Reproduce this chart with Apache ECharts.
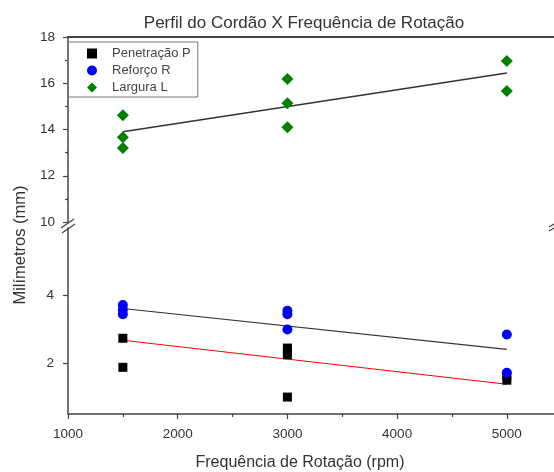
<!DOCTYPE html>
<html>
<head>
<meta charset="utf-8">
<script src="https://cdn.jsdelivr.net/npm/echarts@6/dist/echarts.min.js"></script>
<style>
  html, body { margin: 0; padding: 0; background: #fff; }
  #chart { width: 554px; height: 472px; }
</style>
</head>
<body>
<div id="chart"></div>
<script>
// dados
const seriesNames = ['Penetração P', 'Reforço R', 'Largura L']

const penX = [1500, 1500, 3000, 3000, 3000, 3000, 5000, 5000]
const penY = [2.74, 1.88, 2.45, 2.35, 2.25, 1.0, 1.62, 1.5]

const refX = [1500, 1500, 1500, 3000, 3000, 3000, 5000, 5000]
const refY = [3.72, 3.58, 3.45, 3.55, 3.45, 3.0, 2.85, 1.72]

const larX = [1500, 1500, 1500, 3000, 3000, 3000, 5000, 5000]
const larY = [14.62, 13.67, 13.2, 16.18, 15.14, 14.1, 16.96, 15.66]

// retas de tendência (pontos extremos)
const fitX = [1500, 5000]
const penFit = [2.68, 1.38]
const refFit = [3.62, 2.41]
const larFit = [13.9, 16.44]

// ticks
const xTicks = [1000, 2000, 3000, 4000, 5000]
const xMinor = [1500, 2500, 3500, 4500]
const lowTicks = [2, 4]
const lowMinor = [1, 3, 5]

const pairs = (xs, ys) => xs.map((x, i) => [x, ys[i]])

const font = 'Liberation Sans, Arial, sans-serif'
const axisColor = '#444'

const chart = echarts.init(document.getElementById('chart'))

const option = {
  animation: false,
  title: {
    text: 'Perfil do Cordão X Frequência de Rotação',
    left: 299,
    top: 10,
    textAlign: 'center',
    textStyle: { fontFamily: font, fontSize: 17, fontWeight: 'normal', color: '#333' }
  },
  legend: {
    orient: 'vertical',
    left: 68,
    top: 42,
    data: seriesNames,
    itemWidth: 10,
    itemHeight: 10,
    itemGap: 4,
    padding: [5, 7, 3, 19],
    borderColor: '#777',
    borderWidth: 1,
    textStyle: { fontFamily: font, fontSize: 13, color: '#444', padding: [0, 0, 0, 10] }
  },
  grid: [
    { left: 68, top: 37, width: 486, height: 185 },
    { left: 68, top: 228, width: 486, height: 187 }
  ],
  xAxis: [
    {
      type: 'value', gridIndex: 0, min: 1000, max: 5430, position: 'top',
      axisLine: { show: true, lineStyle: { color: axisColor, width: 2 } },
      axisTick: { show: false }, axisLabel: { show: false }, splitLine: { show: false }
    },
    {
      type: 'value', gridIndex: 1, min: 1000, max: 5430, position: 'bottom',
      name: 'Frequência de Rotação (rpm)',
      nameLocation: 'middle',
      nameGap: 41,
      nameTextStyle: { fontFamily: font, fontSize: 16, color: '#333', padding: [0, 22, 0, 0] },
      axisLine: { show: true, lineStyle: { color: axisColor, width: 1.5 } },
      axisTick: { show: true, length: 5, customValues: xTicks, lineStyle: { color: axisColor, width: 1.2 } },
      axisLabel: { customValues: xTicks, formatter: v => String(v), fontFamily: font, fontSize: 13.5, color: '#333', margin: 13 },
      splitLine: { show: false }
    },
    {
      type: 'value', gridIndex: 1, min: 1000, max: 5430, position: 'bottom',
      axisLine: { show: false },
      axisTick: { show: true, length: 3, customValues: xMinor, lineStyle: { color: axisColor, width: 1.2 } },
      axisLabel: { show: false }, splitLine: { show: false }
    }
  ],
  yAxis: [
    {
      type: 'value', gridIndex: 0, min: 10, max: 18, interval: 2,
      axisLine: { show: true, lineStyle: { color: axisColor, width: 1.5 } },
      axisTick: { show: true, length: 5, lineStyle: { color: axisColor, width: 1.2 } },
      minorTick: { show: true, splitNumber: 2, length: 3, lineStyle: { color: axisColor, width: 1.2 } },
      axisLabel: { fontFamily: font, fontSize: 13.5, color: '#333', margin: 13 },
      splitLine: { show: false }
    },
    {
      type: 'value', gridIndex: 1, min: 0.5, max: 6,
      axisLine: { show: true, lineStyle: { color: axisColor, width: 1.5 } },
      axisTick: { show: true, length: 5, customValues: lowTicks, lineStyle: { color: axisColor, width: 1.2 } },
      axisLabel: { customValues: lowTicks, fontFamily: font, fontSize: 13.5, color: '#333', margin: 14 },
      splitLine: { show: false }
    },
    {
      type: 'value', gridIndex: 1, min: 0.5, max: 6,
      axisLine: { show: false },
      axisTick: { show: true, length: 3, customValues: lowMinor, lineStyle: { color: axisColor, width: 1.2 } },
      axisLabel: { show: false }, splitLine: { show: false }
    }
  ],
  graphic: [
    {
      type: 'text', x: 20, y: 245, rotation: Math.PI / 2,
      style: { text: 'Milímetros (mm)', font: '16.5px ' + font, fill: '#333', align: 'center', verticalAlign: 'middle' }
    },
    // marcas de quebra do eixo
    { type: 'line', shape: { x1: 61, y1: 228, x2: 74, y2: 219 }, style: { stroke: axisColor, lineWidth: 1.3 } },
    { type: 'line', shape: { x1: 62, y1: 233, x2: 75, y2: 224 }, style: { stroke: axisColor, lineWidth: 1.3 } },
    { type: 'line', shape: { x1: 549, y1: 227, x2: 554, y2: 224 }, style: { stroke: axisColor, lineWidth: 1.2 } },
    { type: 'line', shape: { x1: 549, y1: 231, x2: 554, y2: 228 }, style: { stroke: axisColor, lineWidth: 1.2 } }
  ],
  series: [
    {
      name: seriesNames[0], type: 'scatter', xAxisIndex: 1, yAxisIndex: 1,
      symbol: 'rect', symbolSize: 9, itemStyle: { color: '#000', opacity: 1 },
      data: pairs(penX, penY), z: 3
    },
    {
      name: seriesNames[1], type: 'scatter', xAxisIndex: 1, yAxisIndex: 1,
      symbol: 'circle', symbolSize: 10, itemStyle: { color: '#0000ff', opacity: 1 },
      data: pairs(refX, refY), z: 3
    },
    {
      name: seriesNames[2], type: 'scatter', xAxisIndex: 0, yAxisIndex: 0,
      symbol: 'diamond', symbolSize: 12, itemStyle: { color: '#008000', opacity: 1 },
      data: pairs(larX, larY), z: 3
    },
    {
      type: 'line', xAxisIndex: 1, yAxisIndex: 1, symbol: 'none', silent: true,
      lineStyle: { color: '#ff0000', width: 1.2 }, data: pairs(fitX, penFit), z: 2
    },
    {
      type: 'line', xAxisIndex: 1, yAxisIndex: 1, symbol: 'none', silent: true,
      lineStyle: { color: '#333', width: 1.2 }, data: pairs(fitX, refFit), z: 2
    },
    {
      type: 'line', xAxisIndex: 0, yAxisIndex: 0, symbol: 'none', silent: true,
      lineStyle: { color: '#333', width: 1.5 }, data: pairs(fitX, larFit), z: 2
    }
  ]
}

chart.setOption(option)
</script>
</body>
</html>
